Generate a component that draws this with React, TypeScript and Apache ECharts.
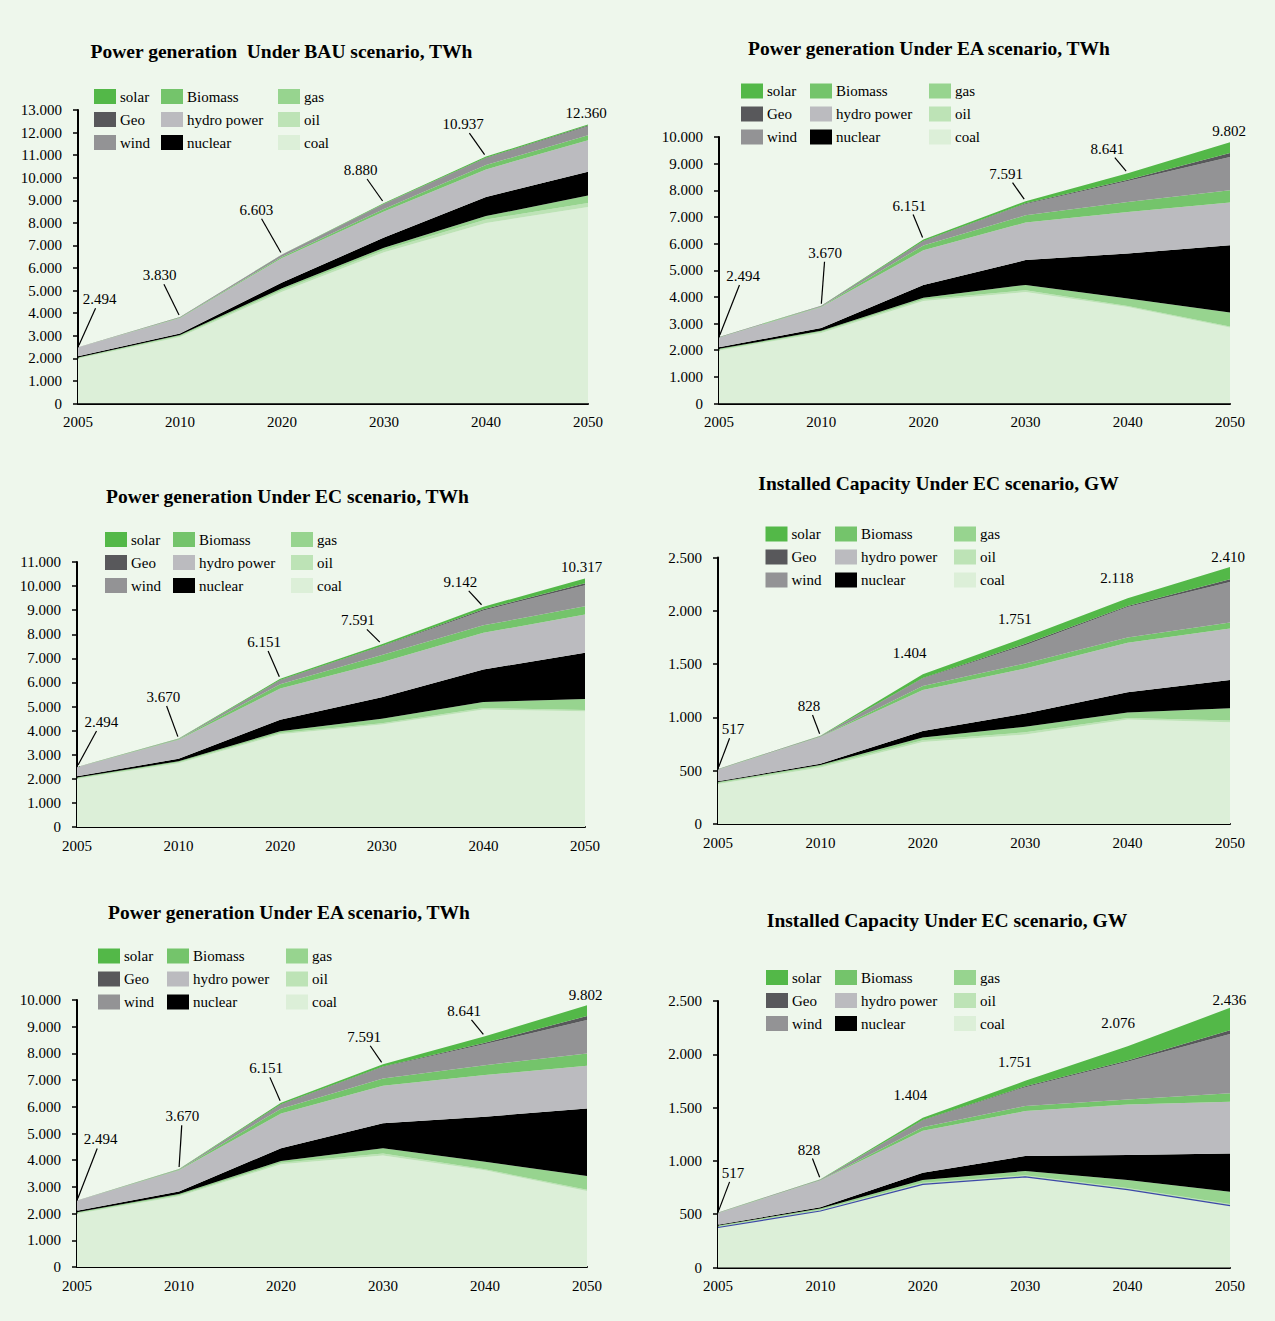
import React, { useEffect, useRef } from 'react';
import * as echarts from 'echarts';

const YEARS = ['2005', '2010', '2020', '2030', '2040', '2050'];
const SOURCES = ['coal', 'oil', 'gas', 'nuclear', 'hydro power', 'Biomass', 'wind', 'Geo', 'solar'];
const COLORS: Record<string, string> = {
  coal: '#dcefd8',
  oil: '#bde3b6',
  gas: '#97d48f',
  nuclear: '#000000',
  'hydro power': '#bbbbbf',
  Biomass: '#74c46b',
  wind: '#939395',
  Geo: '#58585b',
  solar: '#53b848',
};
const LEGEND_COLUMNS = [
  ['solar', 'Geo', 'wind'],
  ['Biomass', 'hydro power', 'nuclear'],
  ['gas', 'oil', 'coal'],
];

// Power generation, BAU scenario (TWh)
const bauCoal = [1980, 2950, 4950, 6700, 8000, 8700];
const bauOil = [30, 40, 80, 100, 150, 180];
const bauGas = [30, 40, 80, 100, 150, 330];
const bauNuclear = [50, 70, 250, 450, 850, 1050];
const bauHydro = [390, 690, 1080, 1150, 1220, 1400];
const bauBiomass = [5, 15, 60, 120, 190, 220];
const bauWind = [5, 20, 90, 220, 300, 400];
const bauGeo = [2, 3, 5, 10, 20, 30];
const bauSolar = [2, 2, 8, 30, 57, 50];
const bauTotals = [2494, 3830, 6603, 8880, 10937, 12360];

// Power generation, EA scenario (TWh)
const eaCoal = [1990, 2650, 3850, 4180, 3620, 2850];
const eaOil = [30, 40, 50, 70, 40, 40];
const eaGas = [30, 40, 70, 200, 280, 520];
const eaNuclear = [60, 100, 480, 930, 1690, 2530];
const eaHydro = [370, 790, 1300, 1410, 1560, 1600];
const eaBiomass = [5, 20, 180, 270, 370, 460];
const eaWind = [5, 20, 150, 430, 790, 1250];
const eaGeo = [2, 5, 20, 20, 50, 150];
const eaSolar = [2, 5, 51, 81, 241, 402];
const eaTotals = [2494, 3670, 6151, 7591, 8641, 9802];

// Power generation, EC scenario (TWh)
const ecCoal = [1990, 2650, 3850, 4250, 4880, 4800];
const ecOil = [30, 40, 50, 60, 60, 60];
const ecGas = [30, 40, 70, 180, 250, 450];
const ecNuclear = [60, 100, 480, 900, 1350, 1920];
const ecHydro = [370, 790, 1300, 1450, 1520, 1590];
const ecBiomass = [5, 20, 180, 300, 310, 340];
const ecWind = [5, 20, 150, 350, 620, 870];
const ecGeo = [2, 5, 20, 20, 50, 90];
const ecSolar = [2, 5, 51, 81, 102, 197];
const ecTotals = [2494, 3670, 6151, 7591, 9142, 10317];

// Installed capacity, EC scenario (GW) - first panel
const capACoal = [375, 530, 770, 840, 980, 955];
const capAOil = [10, 12, 15, 20, 15, 15];
const capAGas = [8, 12, 27, 52, 50, 115];
const capANuclear = [7, 12, 60, 125, 190, 265];
const capAHydro = [110, 250, 384, 422, 465, 485];
const capABiomass = [2, 3, 38, 47, 50, 55];
const capAWind = [3, 6, 72, 172, 285, 380];
const capAGeo = [1, 1, 4, 12, 10, 25];
const capASolar = [1, 2, 34, 61, 73, 115];
const capATotals = [517, 828, 1404, 1751, 2118, 2410];

// Installed capacity, EC scenario (GW) - second panel
const capBCoal = [375, 530, 780, 850, 730, 580];
const capBOil = [10, 12, 15, 15, 15, 15];
const capBGas = [8, 12, 25, 40, 75, 115];
const capBNuclear = [7, 12, 70, 140, 235, 360];
const capBHydro = [110, 250, 393, 422, 475, 485];
const capBBiomass = [2, 3, 32, 47, 47, 80];
const capBWind = [3, 6, 65, 178, 353, 555];
const capBGeo = [1, 1, 4, 8, 12, 35];
const capBSolar = [1, 2, 20, 51, 134, 211];
const capBTotals = [517, 828, 1404, 1751, 2076, 2436];

const FONT = '"Liberation Serif", "Times New Roman", serif';

const fmt = (v: number) =>
  v >= 1000 ? `${Math.floor(v / 1000)}.${String(v % 1000).padStart(3, '0')}` : String(v);

const PANELS = [
  {
    title: 'Power generation  Under BAU scenario, TWh',
    titlePos: [281.5, 51.5],
    series: [bauCoal, bauOil, bauGas, bauNuclear, bauHydro, bauBiomass, bauWind, bauGeo, bauSolar],
    totals: bauTotals,
    max: 13000,
    interval: 1000,
    grid: { left: 78, top: 110, width: 510, height: 293.5 },
    legendLeft: [94, 161, 278],
    legendTop: 89,
    offsets: [[21.6, -48], [-20.5, -41.7], [-25.6, -44.7], [-23.3, -33], [-23, -32.4], [-2, -11]],
    leaders: 5,
    coalLine: '',
  },
  {
    title: 'Power generation Under EA scenario, TWh',
    titlePos: [929, 48],
    series: [eaCoal, eaOil, eaGas, eaNuclear, eaHydro, eaBiomass, eaWind, eaGeo, eaSolar],
    totals: eaTotals,
    max: 10000,
    interval: 1000,
    grid: { left: 719, top: 137, width: 511, height: 266.5 },
    legendLeft: [741, 810, 929],
    legendTop: 83.5,
    offsets: [[24, -61], [4, -53], [-14, -34], [-19.4, -27.5], [-20.5, -24.5], [-1, -11]],
    leaders: 5,
    coalLine: '',
  },
  {
    title: 'Power generation Under EC scenario, TWh',
    titlePos: [287.5, 496],
    series: [ecCoal, ecOil, ecGas, ecNuclear, ecHydro, ecBiomass, ecWind, ecGeo, ecSolar],
    totals: ecTotals,
    max: 11000,
    interval: 1000,
    grid: { left: 77, top: 562, width: 508, height: 265 },
    legendLeft: [105, 173, 291],
    legendTop: 532,
    offsets: [[24.4, -45], [-15.3, -41.6], [-16, -36.8], [-24, -23.8], [-23, -24.8], [-3.3, -11]],
    leaders: 5,
    coalLine: '',
  },
  {
    title: 'Installed Capacity Under EC scenario, GW',
    titlePos: [938.5, 483],
    series: [capACoal, capAOil, capAGas, capANuclear, capAHydro, capABiomass, capAWind, capAGeo, capASolar],
    totals: capATotals,
    max: 2500,
    interval: 500,
    grid: { left: 718, top: 557.5, width: 512, height: 266.5 },
    legendLeft: [765.5, 835, 954],
    legendTop: 526.5,
    offsets: [[15, -39.6], [-11.3, -29.7], [-13.3, -21.5], [-10.4, -18], [-10.8, -19.8], [-2, -9.6]],
    leaders: 2,
    coalLine: '',
  },
  {
    title: 'Power generation Under EA scenario, TWh',
    titlePos: [289, 912.5],
    series: [eaCoal, eaOil, eaGas, eaNuclear, eaHydro, eaBiomass, eaWind, eaGeo, eaSolar],
    totals: eaTotals,
    max: 10000,
    interval: 1000,
    grid: { left: 77, top: 1000, width: 510, height: 267 },
    legendLeft: [98, 167, 286],
    legendTop: 948.5,
    offsets: [[23.7, -61], [3.3, -52.8], [-15, -34.4], [-19, -27.6], [-21, -25.3], [-1.4, -10.3]],
    leaders: 5,
    coalLine: '',
  },
  {
    title: 'Installed Capacity Under EC scenario, GW',
    titlePos: [947, 920],
    series: [capBCoal, capBOil, capBGas, capBNuclear, capBHydro, capBBiomass, capBWind, capBGeo, capBSolar],
    totals: capBTotals,
    max: 2500,
    interval: 500,
    grid: { left: 718, top: 1001, width: 512, height: 266.5 },
    legendLeft: [766, 835, 954],
    legendTop: 970,
    offsets: [[15, -39.5], [-11.4, -29.7], [-12.5, -22.5], [-10.4, -18.8], [-9.6, -23.2], [-0.7, -7.5]],
    leaders: 2,
    coalLine: '#3d48a8',
  },
];

function buildOption() {
  const grid: any[] = [];
  const xAxis: any[] = [];
  const yAxis: any[] = [];
  const series: any[] = [];
  const legend: any[] = [];
  const graphic: any[] = [];

  PANELS.forEach((p, c) => {
    grid.push({ ...p.grid, containLabel: false });
    xAxis.push({
      type: 'category',
      gridIndex: c,
      data: YEARS,
      boundaryGap: false,
      axisLine: { show: true, lineStyle: { color: '#000', width: 2 } },
      axisTick: { show: false },
      axisLabel: { color: '#000', fontSize: 15, fontFamily: FONT, margin: 11 },
      splitLine: { show: false },
    });
    yAxis.push({
      type: 'value',
      gridIndex: c,
      min: 0,
      max: p.max,
      interval: p.interval,
      axisLine: { show: true, lineStyle: { color: '#000', width: 2 } },
      axisTick: { show: true, length: 5, lineStyle: { color: '#000', width: 1.5 } },
      axisLabel: { color: '#000', fontSize: 15, fontFamily: FONT, margin: 16, formatter: (v: number) => fmt(v) },
      splitLine: { show: false },
    });

    SOURCES.forEach((name, k) => {
      const isCoalLine = name === 'coal' && p.coalLine;
      series.push({
        type: 'line',
        name,
        xAxisIndex: c,
        yAxisIndex: c,
        stack: 'stack' + c,
        data: p.series[k],
        symbol: 'none',
        showSymbol: false,
        color: COLORS[name],
        itemStyle: { color: COLORS[name] },
        lineStyle: isCoalLine ? { width: 1.2, color: p.coalLine } : { width: 0 },
        areaStyle: { color: COLORS[name], opacity: 1 },
        emphasis: { disabled: true },
        silent: true,
        z: isCoalLine ? 3 : 2,
      });
    });

    const offsets = p.offsets;
    const leaders = p.leaders;
    series.push({
      type: 'custom',
      name: 'total' + c,
      xAxisIndex: c,
      yAxisIndex: c,
      clip: false,
      silent: true,
      z: 10,
      data: p.totals.map((t, i) => [i, t]),
      renderItem: (params: any, api: any) => {
        const i = params.dataIndex;
        const pt = api.coord([api.value(0), api.value(1)]);
        const [dx, dy] = offsets[i];
        const children: any[] = [];
        if (i < leaders) {
          const len = Math.abs(dy);
          const t1 = (len - 9) / len;
          const t0 = 2 / len;
          children.push({
            type: 'line',
            shape: {
              x1: pt[0] + dx * t0,
              y1: pt[1] + dy * t0,
              x2: pt[0] + dx * t1,
              y2: pt[1] + dy * t1,
            },
            style: { stroke: '#000', lineWidth: 1.2 },
          });
        }
        children.push({
          type: 'text',
          x: pt[0] + dx,
          y: pt[1] + dy,
          style: {
            text: fmt(api.value(1)),
            fill: '#000',
            font: `15px ${FONT}`,
            align: 'center',
            verticalAlign: 'middle',
            textAlign: 'center',
            textVerticalAlign: 'middle',
          },
        });
        return { type: 'group', children };
      },
    });

    LEGEND_COLUMNS.forEach((col, j) => {
      legend.push({
        data: col,
        orient: 'vertical',
        left: p.legendLeft[j],
        top: p.legendTop,
        padding: 0,
        itemWidth: 22,
        itemHeight: 15,
        itemGap: 8,
        icon: 'rect',
        selectedMode: false,
        itemStyle: { borderWidth: 0 },
        textStyle: { color: '#000', fontSize: 15, fontFamily: FONT, padding: [0, 0, 0, -1] },
      });
    });

    graphic.push({
      type: 'text',
      x: p.titlePos[0],
      y: p.titlePos[1],
      silent: true,
      style: {
        text: p.title,
        fill: '#000',
        font: `bold 19.5px ${FONT}`,
        align: 'center',
        verticalAlign: 'middle',
        textAlign: 'center',
        textVerticalAlign: 'middle',
      },
    });
  });

  return {
    animation: false,
    backgroundColor: '#eef7ec',
    tooltip: { show: false },
    grid,
    xAxis,
    yAxis,
    series,
    legend,
    graphic,
  };
}

export default function App() {
  const ref = useRef<HTMLDivElement>(null);
  useEffect(() => {
    document.body.style.margin = '0';
    if (!ref.current) return;
    const chart = echarts.init(ref.current, undefined, { renderer: 'svg' });
    chart.setOption(buildOption());
    return () => chart.dispose();
  }, []);
  return (
    <div
      ref={ref}
      style={{ position: 'absolute', left: 0, top: 0, width: 1275, height: 1321, background: '#eef7ec' }}
    />
  );
}
